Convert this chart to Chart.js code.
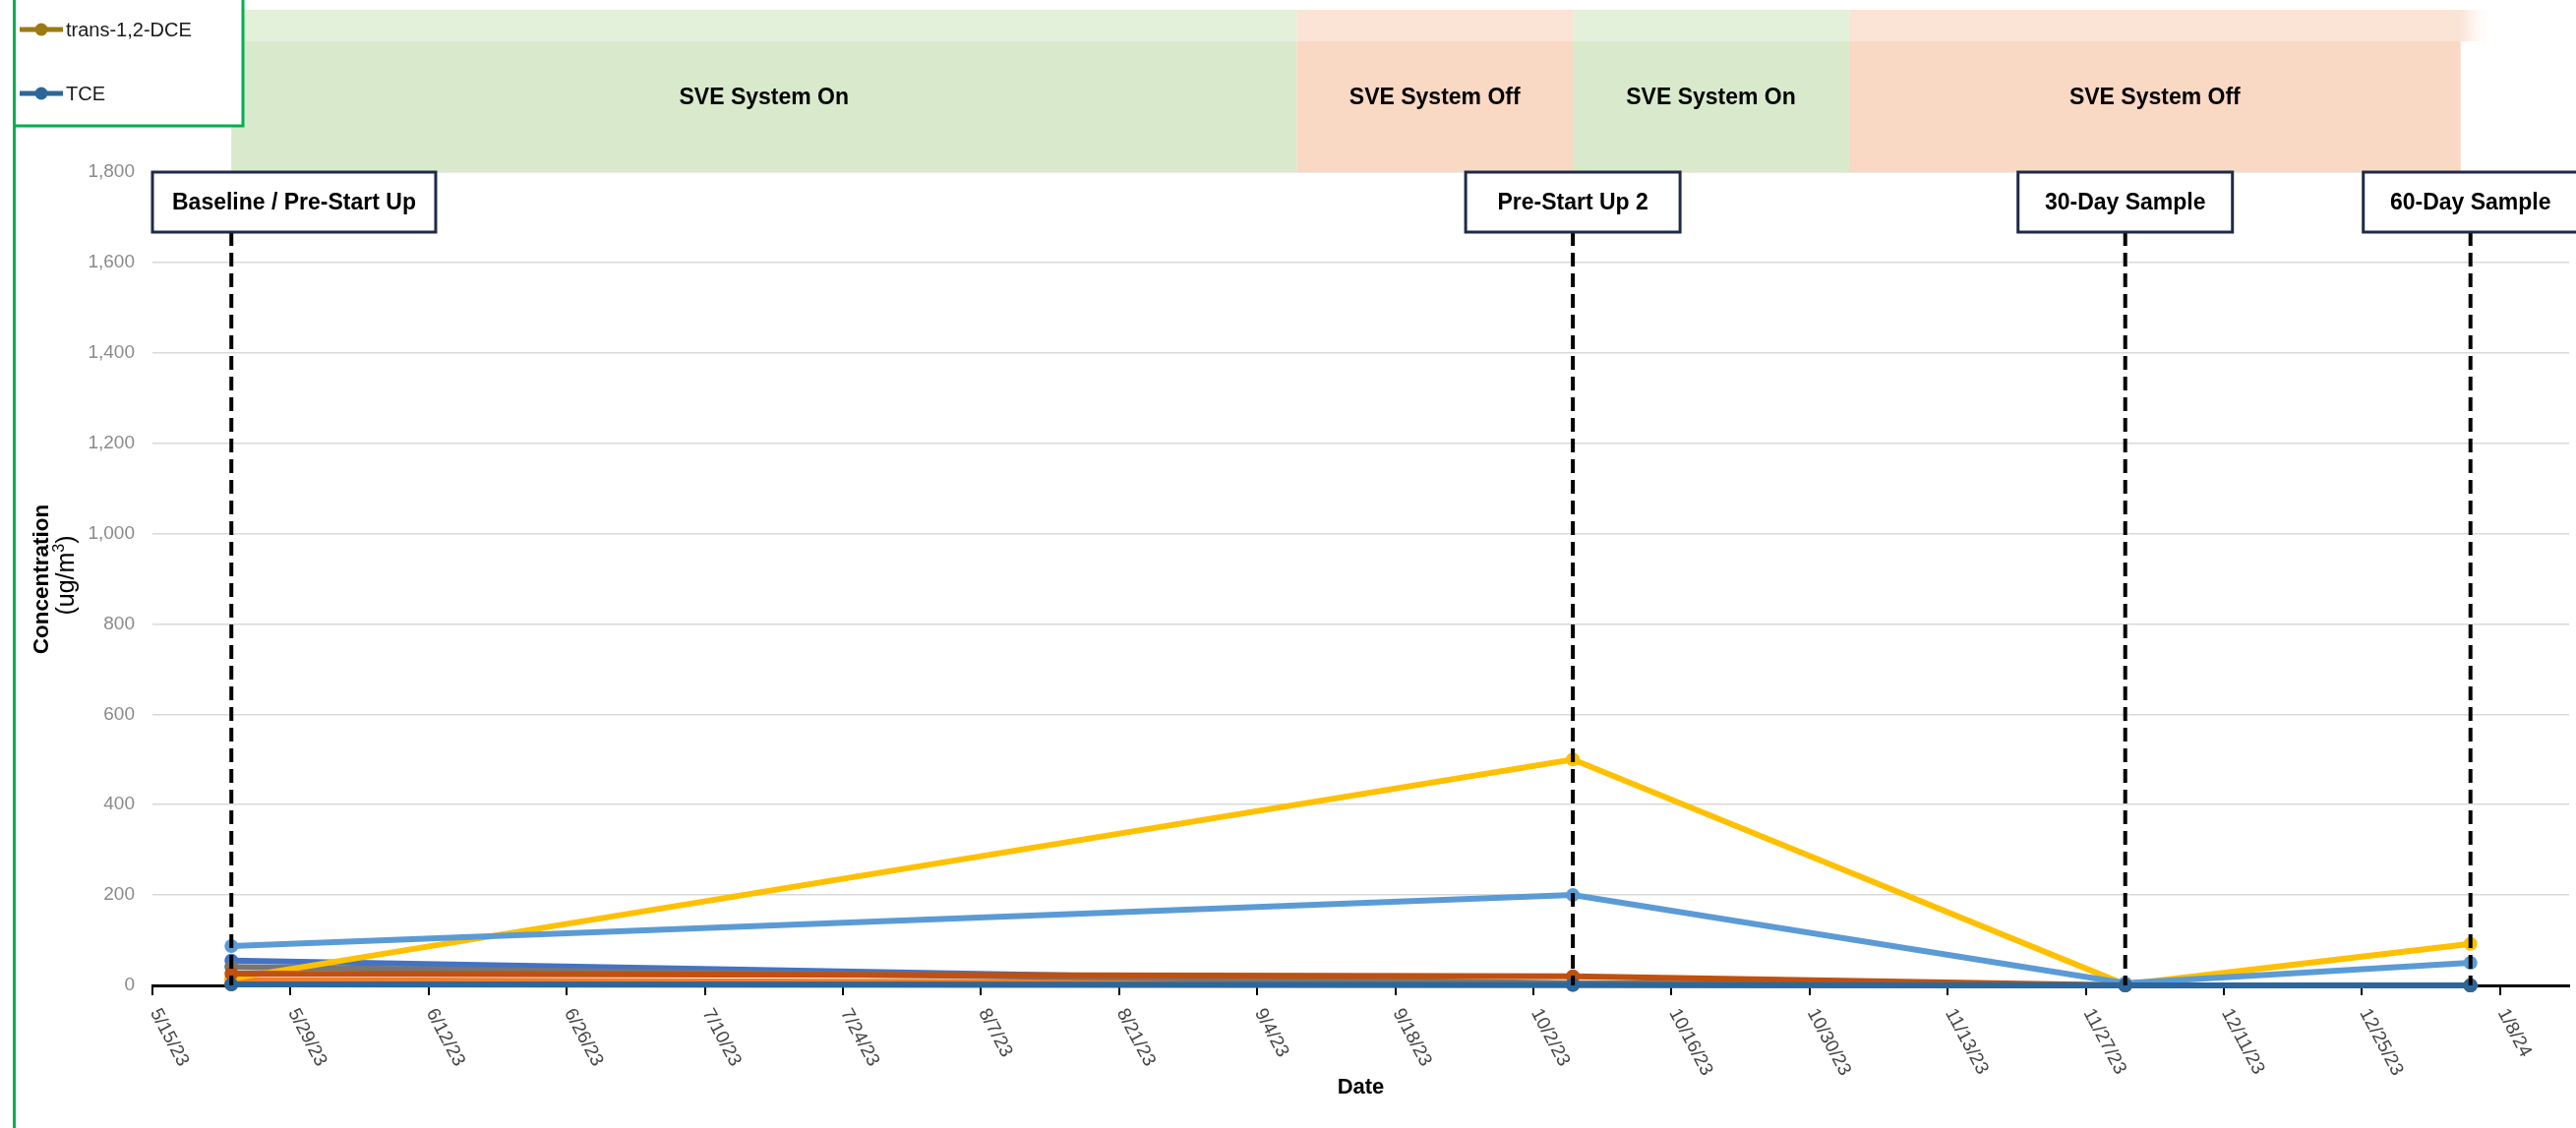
<!DOCTYPE html>
<html>
<head>
<meta charset="utf-8">
<title>Soil Vapor Concentrations</title>
<script src="https://cdn.jsdelivr.net/npm/chart.js@4.4.1/dist/chart.umd.min.js"></script>
<style>
  html, body { margin: 0; padding: 0; background: #ffffff; overflow: hidden; }
  canvas { display: block; }
</style>
</head>
<body>
<canvas id="chart" width="2619" height="1147"></canvas>
<script>
// ---- data ----
const sampleDates = ['2023-05-23', '2023-10-06', '2023-12-01', '2024-01-05'];

const series1 = [55, 2, 0, 0];
const series2 = [12, 4, 0, 0];
const series3 = [41, 5, 0, 0];
const series4 = [15, 500, 2, 92];
const series5 = [87, 200, 5, 50];
const series6 = [26, 20, 0, 0];
const trans12DCE = [2, 1, 0, 0];
const tce = [2, 1, 0, 0];

const legendLabels = ['trans-1,2-DCE', 'TCE'];

const xAxisStart = '2023-05-15';
const xAxisEnd = '2024-01-15';
const xTickLabels = ['5/15/23', '5/29/23', '6/12/23', '6/26/23', '7/10/23', '7/24/23', '8/7/23', '8/21/23',
  '9/4/23', '9/18/23', '10/2/23', '10/16/23', '10/30/23', '11/13/23', '11/27/23', '12/11/23', '12/25/23', '1/8/24'];
const yTickValues = [0, 200, 400, 600, 800, 1000, 1200, 1400, 1600, 1800];

const phaseLabels = ['SVE System On', 'SVE System Off', 'SVE System On', 'SVE System Off'];
const phaseStarts = ['2023-05-23', '2023-09-08', '2023-10-06', '2023-11-03'];
const phaseEnds = ['2023-09-08', '2023-10-06', '2023-11-03', '2024-01-04'];

const eventLabels = ['Baseline / Pre-Start Up', 'Pre-Start Up 2', '30-Day Sample', '60-Day Sample'];
const eventDates = ['2023-05-23', '2023-10-06', '2023-12-01', '2024-01-05'];

// ---- helpers ----
const DAY = 86400000;
const origin = Date.UTC(2023, 4, 15);
function isoToDay(s) {
  const [y, m, d] = s.split('-').map(Number);
  return (Date.UTC(y, m - 1, d) - origin) / DAY;
}
function labelToDay(s) {
  const [m, d, yy] = s.split('/').map(Number);
  return (Date.UTC(2000 + yy, m - 1, d) - origin) / DAY;
}
const FONT = "'Liberation Sans', Arial, sans-serif";

// ---- styles ----
const seriesStyle = [
  { data: series1, color: '#4472C4' },
  { data: series2, color: '#ED7D31' },
  { data: series3, color: '#767676' },
  { data: series4, color: '#FFC000' },
  { data: series5, color: '#5B9BD5' },
  { data: series6, color: '#C0500F' },
  { data: trans12DCE, color: '#9C7A12', label: legendLabels[0] },
  { data: tce, color: '#2B679C', label: legendLabels[1] }
];
const phaseColors = { on: '#D8EACB', off: '#F9D8C4' };
const phaseTopColors = { on: '#E3F0DA', off: '#FBE3D5' };

const datasets = seriesStyle.map((s, i) => ({
  label: s.label || '',
  data: s.data.map((v, j) => ({ x: isoToDay(sampleDates[j]), y: v })),
  borderColor: s.color,
  backgroundColor: s.color,
  pointBackgroundColor: s.color,
  pointBorderColor: s.color,
  borderWidth: 6,
  pointRadius: 7,
  pointBorderWidth: 0,
  tension: 0,
  clip: false,
  order: seriesStyle.length - i
}));

// ---- decorations: phase bands, sampling events, labels, legend ----
const decor = {
  id: 'decor',
  beforeDatasetsDraw(chart) {
    const { ctx, chartArea } = chart;
    const xs = chart.scales.x;
    const top = 10, bottom = chartArea.top, stripBottom = 42;
    ctx.save();
    phaseLabels.forEach((lab, i) => {
      const x0 = xs.getPixelForValue(isoToDay(phaseStarts[i]));
      const x1 = xs.getPixelForValue(isoToDay(phaseEnds[i]));
      const key = lab.endsWith('On') ? 'on' : 'off';
      ctx.fillStyle = phaseColors[key];
      ctx.fillRect(x0, stripBottom, x1 - x0, bottom - stripBottom);
      ctx.fillStyle = phaseTopColors[key];
      ctx.fillRect(x0, top, x1 - x0, stripBottom - top);
      if (i === phaseLabels.length - 1) {
        const g = ctx.createLinearGradient(x1, 0, x1 + 34, 0);
        g.addColorStop(0, phaseTopColors[key]);
        g.addColorStop(1, 'rgba(255,255,255,0)');
        ctx.fillStyle = g;
        ctx.fillRect(x1, top, 34, stripBottom - top);
      }
      ctx.fillStyle = '#000';
      ctx.font = 'bold 23px ' + FONT;
      ctx.textAlign = 'center';
      ctx.textBaseline = 'middle';
      ctx.fillText(lab, (x0 + x1) / 2, 100);
    });
    ctx.restore();
  },
  afterDatasetsDraw(chart) {
    const { ctx, chartArea } = chart;
    const xs = chart.scales.x;
    const boxTop = 175, boxBottom = 236;
    ctx.save();
    ctx.font = 'bold 23px ' + FONT;
    eventDates.forEach((d, i) => {
      const x = xs.getPixelForValue(isoToDay(d));
      // dashed marker line
      ctx.setLineDash([14, 7]);
      ctx.strokeStyle = '#000';
      ctx.lineWidth = 4;
      ctx.beginPath();
      ctx.moveTo(x, boxBottom);
      ctx.lineTo(x, chartArea.bottom);
      ctx.stroke();
      ctx.setLineDash([]);
      // label box
      const tw = ctx.measureText(eventLabels[i]).width;
      const w = Math.max(218, tw + 40);
      let left = x - w / 2;
      if (left < chartArea.left) left = chartArea.left;
      ctx.fillStyle = '#fff';
      ctx.fillRect(left, boxTop, w, boxBottom - boxTop);
      ctx.strokeStyle = '#1F2A4A';
      ctx.lineWidth = 3;
      ctx.strokeRect(left, boxTop, w, boxBottom - boxTop);
      ctx.fillStyle = '#000';
      ctx.textAlign = 'center';
      ctx.textBaseline = 'middle';
      ctx.fillText(eventLabels[i], left + w / 2, (boxTop + boxBottom) / 2 + 1);
    });
    ctx.restore();
  },
  afterDraw(chart) {
    const { ctx, chartArea } = chart;
    const xs = chart.scales.x;
    ctx.save();
    // rotated date labels
    ctx.font = '19px ' + FONT;
    ctx.fillStyle = '#454545';
    ctx.textAlign = 'left';
    ctx.textBaseline = 'middle';
    xs.ticks.forEach((t, i) => {
      const x = xs.getPixelForValue(t.value);
      ctx.save();
      ctx.translate(x + 2, chartArea.bottom + 25);
      ctx.rotate(62 * Math.PI / 180);
      ctx.fillText(xTickLabels[i], 0, 0);
      ctx.restore();
    });
    // axis titles
    ctx.fillStyle = '#000';
    ctx.textAlign = 'center';
    ctx.font = 'bold 22px ' + FONT;
    ctx.fillText('Date', (chartArea.left + chartArea.right) / 2, 1106);
    ctx.save();
    ctx.translate(43, 589);
    ctx.rotate(-Math.PI / 2);
    ctx.font = 'bold 22.5px ' + FONT;
    ctx.fillText('Concentration', 0, 0);
    ctx.restore();
    // unit line with superscript 3
    ctx.save();
    ctx.translate(68, 585);
    ctx.rotate(-Math.PI / 2);
    ctx.textAlign = 'left';
    const big = '25px ' + FONT, small = '16px ' + FONT;
    ctx.font = big;
    const wA = ctx.measureText('(ug/m').width, wC = ctx.measureText(')').width;
    ctx.font = small;
    const wB = ctx.measureText('3').width;
    let px = -(wA + wB + wC) / 2;
    ctx.font = big;
    ctx.fillText('(ug/m', px, 0);
    px += wA;
    ctx.font = small;
    ctx.fillText('3', px, -7);
    px += wB;
    ctx.font = big;
    ctx.fillText(')', px, 0);
    ctx.restore();
    // legend box
    ctx.fillStyle = '#fff';
    ctx.fillRect(15, 0, 232, 128);
    ctx.strokeStyle = '#00B050';
    ctx.lineWidth = 3;
    ctx.beginPath();
    ctx.moveTo(14.5, 0);
    ctx.lineTo(14.5, 1147);
    ctx.moveTo(14.5, 128);
    ctx.lineTo(247, 128);
    ctx.lineTo(247, 0);
    ctx.stroke();
    const legendRows = [30, 95];
    legendLabels.forEach((lab, i) => {
      const s = seriesStyle.find(st => st.label === lab);
      const y = legendRows[i];
      ctx.strokeStyle = s.color;
      ctx.lineWidth = 5;
      ctx.beginPath();
      ctx.moveTo(20, y);
      ctx.lineTo(64, y);
      ctx.stroke();
      ctx.fillStyle = s.color;
      ctx.beginPath();
      ctx.arc(42, y, 6.5, 0, Math.PI * 2);
      ctx.fill();
      ctx.fillStyle = '#1a1a1a';
      ctx.font = '20px ' + FONT;
      ctx.textAlign = 'left';
      ctx.textBaseline = 'middle';
      ctx.fillText(lab, 67, y + 1);
    });
    ctx.restore();
  }
};

new Chart(document.getElementById('chart'), {
  type: 'line',
  data: { datasets },
  options: {
    responsive: false,
    animation: false,
    events: [],
    layout: { padding: { top: 175, left: 0, right: 0, bottom: 0 } },
    plugins: { legend: { display: false }, tooltip: { enabled: false } },
    scales: {
      x: {
        type: 'linear',
        position: 'bottom',
        min: isoToDay(xAxisStart),
        max: isoToDay(xAxisEnd),
        afterBuildTicks(scale) { scale.ticks = xTickLabels.map(l => ({ value: labelToDay(l) })); },
        afterFit(scale) { scale.height = 145; },
        ticks: { display: false },
        grid: { drawOnChartArea: false, drawTicks: true, tickLength: 10, color: '#000', lineWidth: 2 },
        border: { display: true, color: '#000', width: 3 }
      },
      y: {
        min: 0,
        max: 1800,
        afterBuildTicks(scale) { scale.ticks = yTickValues.map(v => ({ value: v })); },
        afterFit(scale) { scale.width = 155; },
        ticks: {
          padding: 18,
          color: '#8a8a8a',
          font: { family: FONT, size: 19 },
          callback: v => v.toLocaleString('en-US')
        },
        grid: { color: '#d9d9d9', lineWidth: 1.5, drawTicks: false },
        border: { display: false }
      }
    }
  },
  plugins: [decor]
});
</script>
</body>
</html>
